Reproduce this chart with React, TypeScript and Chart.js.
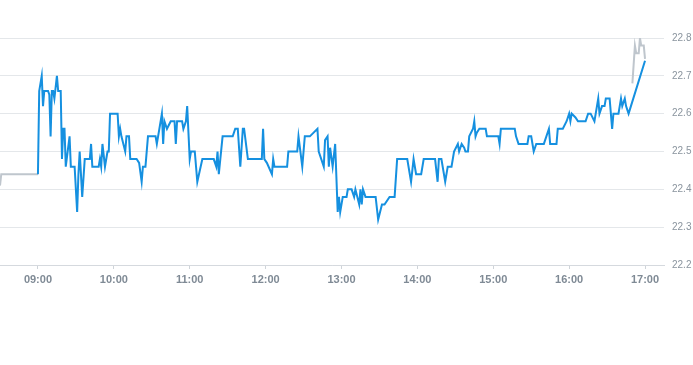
import React, { useEffect, useRef } from "react";
import { Chart, registerables } from "chart.js";

Chart.register(...registerables);

// Main session (blue)
const sessionTimes = [
  "09:00","09:01","09:03","09:04","09:05","09:08","09:09","09:10","09:11","09:12","09:13","09:15","09:16","09:18","09:19","09:20","09:21","09:22","09:25","09:26","09:29","09:31","09:32","09:33","09:35","09:37","09:41","09:42","09:43","09:48","09:49","09:50","09:51","09:53","09:55","09:56","09:57",
  "10:03","10:04","10:05","10:06","10:09","10:10","10:12","10:13","10:18","10:20","10:22","10:23","10:25","10:27","10:33","10:34","10:36","10:38","10:39","10:40","10:42","10:45","10:48","10:49","10:50","10:54","10:55","10:57","10:58",
  "11:00","11:01","11:04","11:06","11:10","11:19","11:21","11:22","11:23","11:26","11:34","11:36","11:38","11:40","11:42","11:43","11:46","11:57","11:58","11:59",
  "12:01","12:05","12:06","12:07","12:17","12:18","12:25","12:26","12:29","12:31","12:35","12:41","12:42","12:46","12:47","12:49","12:50","12:51","12:53","12:55","12:57","12:58","12:59",
  "13:01","13:04","13:05","13:08","13:10","13:11","13:14","13:15","13:16","13:17","13:19","13:27","13:29","13:32","13:34","13:38","13:42","13:44","13:52","13:55","13:57","13:59",
  "14:03","14:05","14:14","14:16","14:17","14:19","14:22","14:24","14:27","14:29","14:32","14:33","14:35","14:37","14:38","14:40","14:41","14:44","14:45","14:46","14:47","14:49","14:54","14:55",
  "15:04","15:05","15:06","15:17","15:18","15:20","15:27","15:28","15:30","15:32","15:34","15:40","15:42","15:44","15:45","15:50","15:51","15:55","15:58",
  "16:00","16:01","16:02","16:05","16:07","16:13","16:15","16:17","16:20","16:22","16:23","16:24","16:26","16:28","16:29","16:32","16:34","16:35","16:39","16:41","16:42","16:44","16:45","16:47",
  "17:00"
];
const sessionValues = [
  22.44,22.66,22.70,22.62,22.66,22.66,22.65,22.54,22.66,22.66,22.64,22.70,22.66,22.66,22.48,22.56,22.56,22.46,22.54,22.46,22.46,22.34,22.44,22.50,22.38,22.48,22.48,22.52,22.46,22.46,22.48,22.46,22.52,22.46,22.50,22.50,22.60,
  22.60,22.54,22.56,22.54,22.50,22.54,22.54,22.48,22.48,22.47,22.42,22.46,22.46,22.54,22.54,22.52,22.56,22.60,22.52,22.58,22.56,22.58,22.58,22.52,22.58,22.58,22.56,22.58,22.62,
  22.48,22.50,22.50,22.42,22.48,22.48,22.46,22.50,22.44,22.54,22.54,22.56,22.56,22.46,22.56,22.56,22.48,22.48,22.56,22.48,
  22.47,22.44,22.48,22.46,22.46,22.50,22.50,22.54,22.46,22.54,22.54,22.56,22.50,22.46,22.53,22.54,22.46,22.51,22.46,22.52,22.34,22.38,22.34,
  22.38,22.38,22.40,22.40,22.38,22.40,22.36,22.40,22.36,22.40,22.38,22.38,22.32,22.36,22.36,22.38,22.38,22.48,22.48,22.42,22.48,22.44,
  22.44,22.48,22.48,22.42,22.48,22.48,22.42,22.46,22.46,22.50,22.52,22.50,22.52,22.51,22.50,22.50,22.54,22.56,22.58,22.54,22.55,22.56,22.56,22.54,
  22.54,22.52,22.56,22.56,22.54,22.52,22.52,22.54,22.54,22.50,22.52,22.52,22.54,22.56,22.52,22.52,22.56,22.56,22.58,
  22.60,22.58,22.60,22.59,22.58,22.58,22.60,22.60,22.58,22.62,22.64,22.60,22.62,22.62,22.64,22.64,22.56,22.60,22.60,22.64,22.62,22.64,22.62,22.60,
  22.74
];

// Pre-market (grey)
const preTimes = ["08:30", "08:31", "09:00"];
const preValues = [22.41, 22.44, 22.44];

// Extended trading (grey)
const postTimes = ["16:50", "16:52", "16:53", "16:55", "16:56", "16:57", "16:59", "17:00"];
const postValues = [22.68, 22.78, 22.76, 22.76, 22.80, 22.78, 22.78, 22.745];

const hourTicks = ["09:00", "10:00", "11:00", "12:00", "13:00", "14:00", "15:00", "16:00", "17:00"];
const priceTicks = [22.2, 22.3, 22.4, 22.5, 22.6, 22.7, 22.8];

const axisStart = "08:30";
const axisEnd = "17:15";

const toMin = (s: string) => {
  const [h, m] = s.split(":").map(Number);
  return h * 60 + m;
};
const fmt = (v: number) => {
  const h = Math.floor(v / 60);
  const m = Math.round(v - h * 60);
  return String(h).padStart(2, "0") + ":" + String(m).padStart(2, "0");
};
const pts = (t: string[], v: number[]) => t.map((s, i) => ({ x: toMin(s), y: v[i] }));

export default function App() {
  const ref = useRef<HTMLCanvasElement>(null);
  useEffect(() => {
    if (!ref.current) return;
    const tickColor = "#8a949e";
    const chart = new Chart(ref.current, {
      type: "line",
      data: {
        datasets: [
          {
            data: pts(sessionTimes, sessionValues),
            borderColor: "#1590e0",
            borderWidth: 2,
            pointRadius: 0,
            tension: 0,
            fill: false,
          },
          {
            data: pts(preTimes, preValues),
            borderColor: "#bfc6cd",
            borderWidth: 2,
            pointRadius: 0,
            tension: 0,
            fill: false,
          },
          {
            data: pts(postTimes, postValues),
            borderColor: "#bfc6cd",
            borderWidth: 2,
            pointRadius: 0,
            tension: 0,
            fill: false,
          },
        ],
      },
      options: {
        animation: false,
        responsive: false,
        maintainAspectRatio: false,
        layout: { padding: { top: 38, left: 0, right: 0, bottom: 0 } },
        plugins: { legend: { display: false }, tooltip: { enabled: false } },
        scales: {
          x: {
            type: "linear",
            min: toMin(axisStart),
            max: toMin(axisEnd),
            afterBuildTicks: (s: any) => {
              s.ticks = hourTicks.map((t) => ({ value: toMin(t) }));
            },
            afterFit: (s: any) => {
              s.height = 100;
            },
            grid: {
              display: true,
              drawOnChartArea: false,
              drawTicks: true,
              tickLength: 4,
              color: "#cfd4d9",
            },
            border: { display: true, color: "#d5d9de" },
            ticks: {
              color: "#7f8a95",
              font: { family: "'Liberation Sans', Arial, sans-serif", size: 11, weight: "bold" },
              padding: 4,
              maxRotation: 0,
              autoSkip: false,
              callback: (v: any) => fmt(Number(v)),
            },
          },
          y: {
            position: "right",
            min: priceTicks[0],
            max: priceTicks[priceTicks.length - 1],
            afterBuildTicks: (s: any) => {
              s.ticks = priceTicks.map((v) => ({ value: v }));
            },
            afterFit: (s: any) => {
              s.width = 29;
            },
            grid: { color: "#e4e7ea", drawTicks: false },
            border: { display: false },
            ticks: {
              color: tickColor,
              padding: 8,
              font: { family: "'Liberation Sans', Arial, sans-serif", size: 10 },
              callback: (v: any) => Number(v).toFixed(1),
            },
          },
        },
      },
    });
    return () => chart.destroy();
  }, []);
  return (
    <div style={{ position: "fixed", left: 0, top: 0, width: 693, height: 365, background: "#fff" }}>
      <canvas ref={ref} width={693} height={365} style={{ display: "block" }} />
    </div>
  );
}
